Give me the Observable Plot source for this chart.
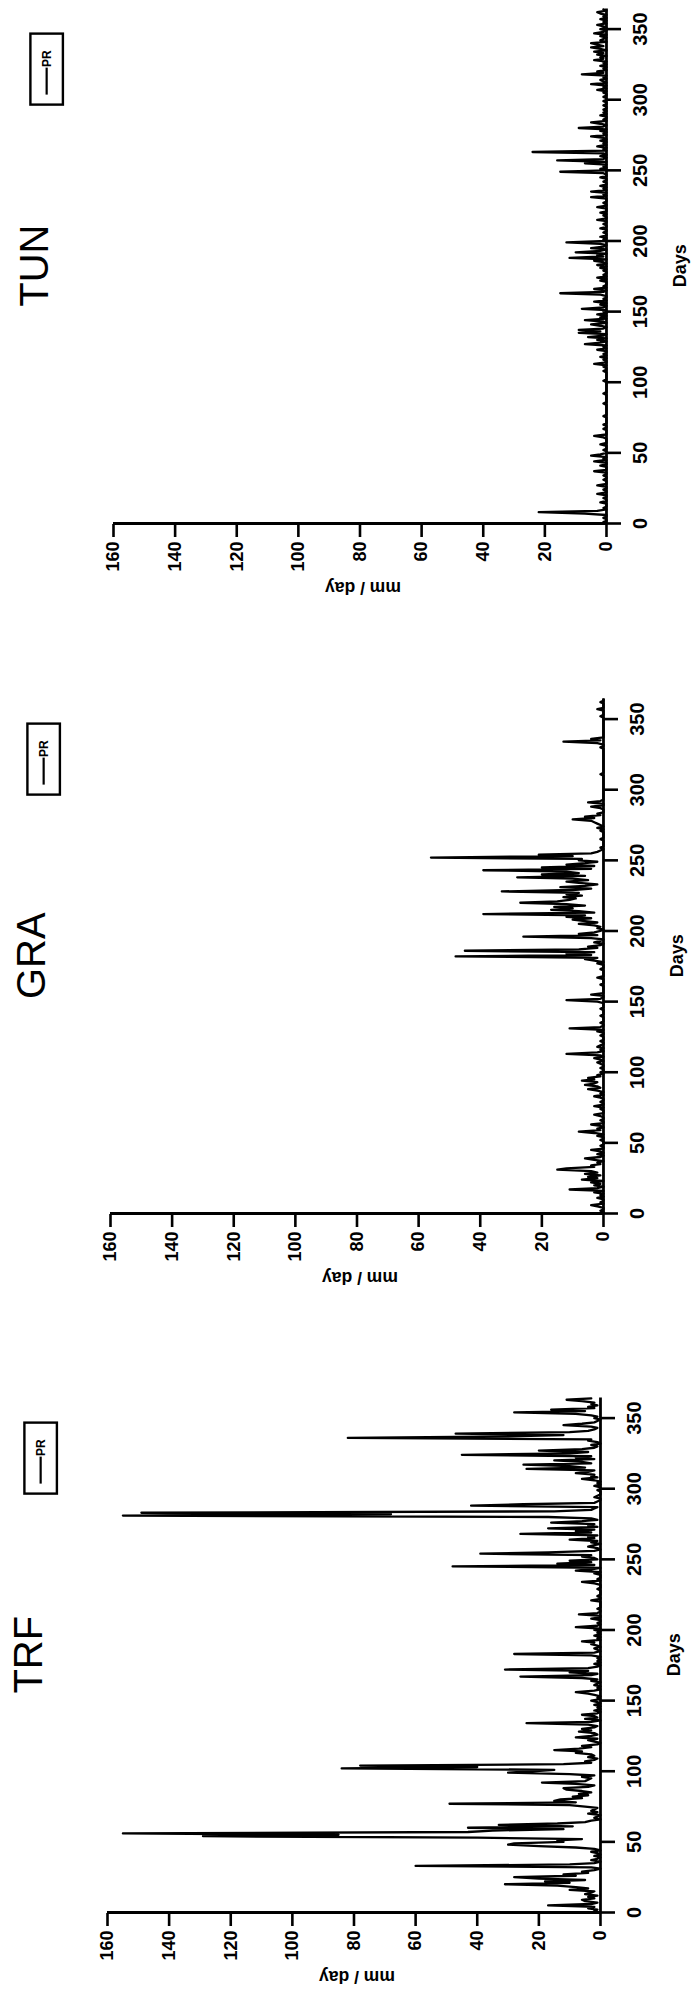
<!DOCTYPE html>
<html><head><meta charset="utf-8">
<script src="https://cdn.jsdelivr.net/npm/d3@7"></script>
<script src="https://cdn.jsdelivr.net/npm/@observablehq/plot@0.6"></script>
<style>
html,body{margin:0;padding:0;background:#fff;width:693px;height:1999px;overflow:hidden}
#land{position:absolute;left:0;top:0;width:1999px;height:693px;transform-origin:0 0;transform:translate(0px,1999px) rotate(-90deg);}
#land svg{position:absolute;overflow:visible;max-width:none}
</style></head><body><div id="land"></div>
<script>
const regions = ["TRF", "GRA", "TUN"];
const dayTicks = [0, 50, 100, 150, 200, 250, 300, 350];
const mmTicks = [0, 20, 40, 60, 80, 100, 120, 140, 160];
const seriesName = "PR";
const yLabel = "mm / day";
const xLabel = "Days";

const trfPR = [
0,2,1,4,2,17,3,1,5,6, 2,4,1,5,3,2,10,4,8,14,
31,10,18,5,20,28,8,12,4,6, 2,0,3,60,10,2,0,3,1,0,
2,0,1,3,0,2,8,20,30,28, 12,14,6,40,129,85,155,43,35,12,
43,9,33,14,5,3,0,2,1,0, 4,1,3,2,1,5,10,49,8,15,
13,6,9,4,7,3,6,11,12,4, 2,8,19,5,4,3,6,2,10,30,
22,15,84,40,78,12,3,5,2,1, 4,2,3,8,6,15,7,3,6,1,
0,2,4,1,8,3,1,2,7,3, 6,2,1,4,24,3,0,5,1,2,
6,1,0,2,0,1,0,2,0,1, 3,0,1,0,2,4,8,2,0,1,
0,2,1,0,3,1,6,26,3,1, 10,4,31,4,1,0,2,0,1,0,
1,0,3,28,2,0,1,2,0,1, 3,2,6,0,1,0,2,0,1,0,
2,0,8,1,0,1,0,0,3,0, 0,7,1,0,0,1,0,0,0,0,
0,3,0,0,1,0,0,0,0,1, 0,0,0,2,6,0,1,0,0,0,
2,0,8,3,0,48,2,14,3,10, 1,2,6,3,39,17,2,0,1,4,
2,0,3,1,10,2,4,1,26,3, 8,2,17,1,4,2,16,6,1,3,
17,155,68,149,15,3,2,1,42,25, 2,1,0,0,2,1,0,0,0,1,
0,0,2,0,1,0,2,6,1,3, 2,8,4,2,24,5,10,25,3,6,
15,2,8,3,45,10,4,20,6,2, 1,3,0,1,4,3,82,30,12,47,
10,4,2,1,3,12,6,2,1,0, 2,1,3,8,28,5,16,2,4,1,
3,2,6,11,3
];

const graPR = [
0,0,1,0,0,2,4,0,1,0, 0,2,0,1,0,3,0,11,2,0,
3,1,4,0,7,2,5,1,6,2, 4,15,12,3,4,1,2,0,3,6,
1,0,2,0,1,4,0,0,1,0, 0,0,1,0,0,2,0,3,8,1,
2,0,1,4,0,0,1,0,0,1, 3,0,0,0,1,0,3,0,0,1,
0,0,1,3,0,1,0,2,5,1, 2,6,3,2,7,3,5,1,2,0,
1,0,0,1,0,0,1,2,0,1, 3,0,1,12,2,0,1,0,2,1,
0,0,1,0,0,0,1,0,0,2, 0,11,1,0,0,1,0,0,0,0,
1,0,0,0,0,1,0,0,0,0, 2,12,1,0,0,4,0,0,0,0,
0,0,1,0,0,0,0,2,0,0, 0,0,0,1,0,0,0,2,0,3,
6,2,48,4,12,3,45,8,2,5, 1,0,3,1,0,4,26,2,8,3,
1,0,2,1,3,8,2,6,10,4, 12,6,39,3,8,17,10,16,6,12,
27,15,11,9,13,7,12,8,33,10, 4,14,6,2,8,12,5,10,28,6,
20,8,12,39,4,20,3,12,6,2, 8,7,56,10,21,4,2,1,0,1,
0,0,0,0,0,1,0,0,0,0, 0,1,0,2,0,1,2,3,4,10,
3,6,1,2,0,0,0,1,4,0, 0,5,1,0,0,0,0,0,0,0,
0,0,0,0,0,0,0,0,0,0, 0,1,0,0,0,0,0,0,0,0,
0,0,0,0,0,0,0,0,0,0, 1,0,0,2,13,1,4,0,0,0,
0,0,0,0,0,0,0,0,0,0, 0,0,1,0,0,0,0,2,0,0,
0,0,1,0,0
];

const tunPR = [
0,1,0,0,1,0,0,7,22,3, 0,1,0,0,0,2,0,0,1,0,
0,3,0,0,1,0,0,3,0,0, 0,1,0,0,1,0,0,4,0,0,
0,2,0,0,4,0,1,0,5,2, 0,0,1,0,0,0,2,0,0,0,
0,1,4,0,0,0,0,1,0,0, 1,0,0,0,0,0,1,0,0,0,
0,0,0,0,0,1,0,0,0,0, 0,0,1,0,0,0,0,0,0,0,
0,1,0,0,0,0,0,0,1,0, 0,1,0,4,0,0,1,0,2,0,
1,0,0,3,0,1,0,7,2,0, 3,0,6,1,0,9,2,9,1,0,
2,5,0,1,7,0,2,0,3,0, 1,0,8,1,0,2,0,4,0,1,
0,0,2,15,1,0,4,0,1,0, 0,0,2,0,3,0,1,0,0,1,
0,2,0,3,0,1,4,0,12,1, 3,0,10,2,0,5,1,0,2,13,
0,1,0,2,0,0,1,0,0,2, 0,0,1,0,0,3,0,0,1,0,
2,0,0,0,3,0,0,1,0,0, 0,5,0,1,0,5,0,1,0,2,
0,0,1,0,0,2,0,0,1,15, 0,2,0,1,0,7,0,16,1,0,
2,0,1,24,0,1,0,3,0,1, 0,2,0,1,5,0,1,0,2,0,
9,1,0,2,5,0,1,0,0,2, 0,1,0,1,0,0,1,0,0,1,
0,0,1,0,0,1,0,3,0,1, 0,5,0,1,2,0,1,0,8,1,
3,0,1,0,2,0,1,0,4,1, 2,0,3,1,4,0,2,5,1,3,
5,0,2,1,0,2,0,4,1,0, 2,0,1,3,0,1,0,2,0,1,
0,2,3,0,1
];

const seriesByRegion = {TRF: trfPR, GRA: graPR, TUN: tunPR};
// landscape placement of each panel's plotting frame (day 0 edge, 160 mm edge)
const frameLeft = {TRF: 85.5, GRA: 784.6, TUN: 1474.7};
const frameTop = {TRF: 106.7, GRA: 109.8, TUN: 112.7};

const ML = 80, MR = 24, MT = 100, MB = 94, PW = 515.6, PH = 493;
const font = "'Liberation Sans', Arial, Helvetica, sans-serif";
const land = document.getElementById("land");

for (const name of regions) {
  const values = seriesByRegion[name];
  const data = values.map((v, i) => ({day: i, pr: v}));
  const chart = Plot.plot({
    width: ML + PW + MR,
    height: MT + PH + MB,
    marginLeft: ML, marginRight: MR, marginTop: MT, marginBottom: MB,
    style: {fontFamily: font, color: "#000", background: "transparent", overflow: "visible"},
    x: {domain: [0, 365]},
    y: {domain: [0, 160]},
    marks: [
      Plot.axisX({ticks: dayTicks, tickSize: 15, tickPadding: 11, fontSize: 20, fontWeight: "bold", strokeWidth: 2.6, label: null}),
      Plot.axisY({ticks: mmTicks, tickSize: 13, tickPadding: 5, fontSize: 18, fontWeight: "bold", strokeWidth: 2.6, label: null}),
      Plot.ruleY([0], {strokeWidth: 2.8}),
      Plot.ruleX([0], {strokeWidth: 2.8}),
      Plot.line(data, {x: "day", y: "pr", strokeWidth: 2.3}),
      Plot.text([name], {frameAnchor: "top", lineAnchor: "middle", textAnchor: "middle", dy: -78.4, fontSize: 40}),
      Plot.text([yLabel], {frameAnchor: "left", lineAnchor: "middle", textAnchor: "middle", dx: -64, dy: 3, rotate: -90, fontSize: 17.5, fontWeight: "bold"}),
      Plot.text([xLabel], {frameAnchor: "bottom", lineAnchor: "middle", textAnchor: "middle", dy: 74, fontSize: 18, fontWeight: "bold"})
    ]
  });
  chart.style.left = (frameLeft[name] - ML) + "px";
  chart.style.top = (frameTop[name] - MT) + "px";
  // legend box
  const g = d3.select(chart).append("g").attr("transform", `translate(${ML + 419.4},${MT - 82.6})`);
  g.append("rect").attr("width", 71).attr("height", 32.5).attr("fill", "none").attr("stroke", "#000").attr("stroke-width", 2.4);
  g.append("line").attr("x1", 10).attr("x2", 37).attr("y1", 16.25).attr("y2", 16.25).attr("stroke", "#000").attr("stroke-width", 2.2);
  g.append("text").attr("x", 46).attr("y", 16.25).attr("dy", "0.35em").attr("font-size", 12).attr("font-weight", "bold").attr("font-family", font).text(seriesName);
  land.appendChild(chart);
}
</script>
</body></html>
